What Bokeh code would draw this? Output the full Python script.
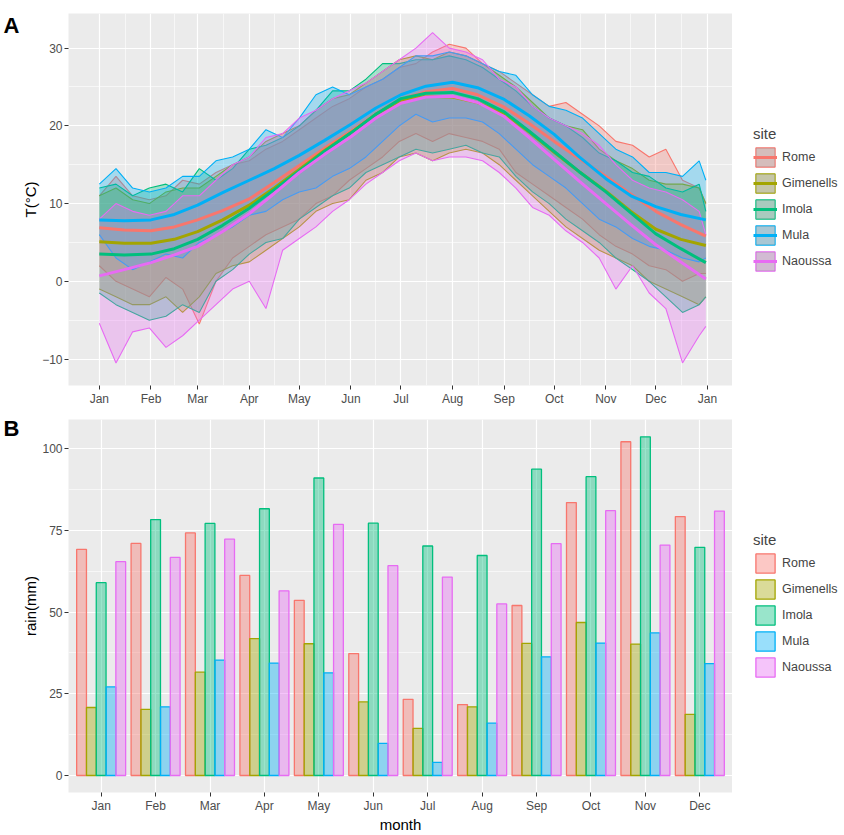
import numpy as np
from bokeh.plotting import figure
from bokeh.models import (ColumnDataSource, FixedTicker, FactorRange, Range1d,
                          Legend, LegendItem, LinearAxis)
from bokeh.transform import dodge
from bokeh.layouts import column, row
from bokeh.embed import file_html
from bokeh.resources import INLINE

# ---------------- data ----------------
sites = ["Rome", "Gimenells", "Imola", "Mula", "Naoussa"]
colors = ["#F8766D", "#A3A500", "#00BF7D", "#00B0F6", "#E76BF3"]
months = ["Jan", "Feb", "Mar", "Apr", "May", "Jun", "Jul", "Aug", "Sep", "Oct", "Nov", "Dec"]
month_start_days = [0, 31, 59, 90, 120, 151, 181, 212, 243, 273, 304, 334, 365]
month_tick_labels = months + ["Jan"]

# daily temperature envelope, read roughly every 10 days (day of year)
temp_days = [0, 10, 20, 30, 40, 50, 60, 70, 80, 90, 100, 110, 120, 130, 140, 150, 160, 170, 180,
             190, 200, 210, 220, 230, 240, 250, 260, 270, 280, 290, 300, 310, 320, 330, 340, 350, 360, 364]

rome_tmax = [11, 13.5, 11, 10.5, 11, 13, 12.5, 14, 15, 15.5, 17, 18, 19.5, 21, 22.5, 23.5, 25, 26, 27.5,
             28, 29.5, 30.5, 30, 28, 27, 25.5, 24, 22.5, 23, 21.5, 20, 18, 17.5, 16, 17, 13, 12, 10]
rome_tmin = [2, 0, -1, -2, 0.5, -1, -5.5, 0, 3, 4.5, 6, 7, 8, 10, 11, 13, 14.5, 16, 18,
             19, 18, 19, 18.5, 18, 17, 14, 12.5, 11, 9.5, 8, 6, 4.5, 3.5, 2, 1.5, 0, 1, 1]

gim_tmax = [11, 12, 10.5, 10, 11.5, 12, 12, 13.5, 15, 16, 18, 19, 20, 22, 23.5, 24, 25.5, 27, 28.5,
            29, 28.5, 29.5, 29, 28, 26.5, 25, 23, 21, 20, 19.5, 17, 15.5, 14.5, 13, 12.5, 12.5, 12, 10]
gim_tmin = [-1, -2, -3, -3, -2, -4, -2, 1, 2, 2.5, 4, 5.5, 7, 9, 10, 10.5, 13, 14, 16,
            16.5, 15.5, 16.5, 17, 16.5, 15, 13, 11, 9, 7, 5.5, 4, 3, 2, 0, -1, -2, -3, -2]

imola_tmax = [12, 12.5, 11, 12, 12.5, 11.5, 14.5, 13, 14.5, 17, 17.5, 18.5, 20, 22, 24.5, 24.5, 26, 28, 28,
              28.5, 28.5, 29, 28.5, 27.5, 26, 24.5, 22.5, 21, 20, 18.5, 16.5, 15.5, 14, 13.5, 12, 11.5, 12.5, 9]
imola_tmin = [-1.5, -3, -4, -5, -4.5, -3, -4, 0, 1.5, 3.5, 5, 5.5, 8, 9.5, 11, 12, 14, 15, 16,
              17, 16.5, 17, 17.5, 16.5, 16, 13.5, 11.5, 10, 8, 6.5, 5, 3, 1.5, 0, -2, -4, -3, -2]

mula_tmax = [12.5, 14.5, 12, 11.5, 12, 13.5, 13.5, 15.5, 16, 17, 19.5, 18.5, 21, 24, 25, 24, 25, 26, 27.5,
             29, 29, 29.5, 29, 28, 27, 26.5, 24, 22.5, 22, 21, 19, 17, 16, 14, 14, 13.5, 15.5, 13]
mula_tmin = [6, 3, 1.5, 2.5, 3.5, 3, 5, 6, 7, 8.5, 9, 10.5, 11.5, 12, 13.5, 14.5, 16, 18, 20,
             21.5, 20.5, 21, 21, 20.5, 19, 17, 15, 13.5, 12, 10, 8, 7, 5.5, 4.5, 4, 3, 2.5, 3]

naou_tmax = [8, 10, 9, 8.5, 9, 11, 11, 13, 15, 16, 18.5, 19, 21, 22, 23.5, 24.5, 25.5, 27, 28.5,
             30, 32, 30, 29.5, 28.5, 26, 25, 22.5, 21, 20, 19, 17.5, 15, 13, 12, 11.5, 10.5, 9, 6]
naou_tmin = [-5.4, -10.5, -6.5, -6, -8.5, -7, -5, -3, -1, 0, -3.5, 4, 5.5, 7, 9, 10.5, 12.5, 14, 15.5,
             16.5, 15.5, 16, 16, 15.5, 14, 12, 9.5, 8.5, 6.5, 5, 3, -1, 2, -1.5, -3.5, -10.5, -7, -5.8]

# smoothed (loess) curves, read twice a month
smooth_days = [0, 15, 31, 45, 59, 74, 90, 105, 120, 135, 151, 166, 181, 196, 212, 227, 243,
               258, 273, 288, 304, 319, 334, 349, 364]
rome_smooth = [6.9, 6.6, 6.5, 7.0, 7.9, 9.1, 10.6, 12.7, 14.9, 17.1, 19.3, 21.5, 23.4, 24.4, 24.8,
               24.0, 22.4, 20.3, 18.0, 15.8, 13.5, 11.2, 9.0, 7.3, 5.8]
gim_smooth = [5.1, 4.9, 4.9, 5.4, 6.4, 7.9, 9.8, 12.0, 14.4, 16.8, 19.1, 21.5, 23.3, 23.8, 23.7,
              23.0, 21.6, 19.2, 16.6, 14.1, 11.6, 9.0, 6.7, 5.4, 4.6]
imola_smooth = [3.5, 3.4, 3.5, 4.2, 5.4, 7.2, 9.4, 11.8, 14.2, 16.7, 19.1, 21.5, 23.5, 24.2, 24.3,
                23.5, 21.8, 19.3, 16.7, 14.1, 11.5, 8.8, 6.1, 4.2, 2.4]
mula_smooth = [7.9, 7.8, 7.9, 8.6, 9.8, 11.4, 13.0, 14.5, 16.2, 18.1, 20.2, 22.3, 24.0, 25.1, 25.6,
               24.9, 23.4, 21.3, 18.9, 16.0, 13.2, 11.0, 9.6, 8.6, 7.9]
naou_smooth = [0.7, 1.5, 2.4, 3.4, 4.5, 6.4, 8.7, 11.3, 14.0, 16.3, 18.6, 21.0, 22.9, 23.7, 23.8,
               23.0, 21.2, 18.5, 15.7, 12.9, 10.0, 7.3, 4.7, 2.5, 0.3]

# monthly rain (mm)
rain_rome = [69.2, 71.0, 74.2, 61.2, 53.6, 37.3, 23.3, 21.7, 52.0, 83.5, 102.1, 79.2]
rain_gim = [20.8, 20.2, 31.6, 41.9, 40.3, 22.5, 14.4, 21.0, 40.4, 46.8, 40.2, 18.7]
rain_imola = [59.0, 78.3, 77.1, 81.6, 91.0, 77.2, 70.2, 67.3, 93.7, 91.4, 103.6, 69.8]
rain_mula = [27.1, 21.0, 35.3, 34.4, 31.4, 9.8, 4.0, 16.0, 36.3, 40.5, 43.6, 34.2]
rain_naou = [65.4, 66.7, 72.3, 56.5, 76.8, 64.2, 60.7, 52.5, 70.9, 81.0, 70.5, 80.9]

temp_max = [rome_tmax, gim_tmax, imola_tmax, mula_tmax, naou_tmax]
temp_min = [rome_tmin, gim_tmin, imola_tmin, mula_tmin, naou_tmin]
smooths = [rome_smooth, gim_smooth, imola_smooth, mula_smooth, naou_smooth]
rains = [rain_rome, rain_gim, rain_imola, rain_mula, rain_naou]

# ---------------- style ----------------
FONT = "Liberation Sans"
W_MAIN = 732
W_LEG = 110
H_A = 408
H_B = 427
BG = "#EBEBEB"


def style(p):
    p.background_fill_color = BG
    p.border_fill_color = "white"
    p.outline_line_color = None
    for ax in p.axis:
        ax.axis_line_color = None
        ax.major_tick_line_color = "#333333"
        ax.major_tick_in = 0
        ax.major_tick_out = 4
        ax.minor_tick_line_color = None
        ax.major_label_text_color = "#4D4D4D"
        ax.major_label_text_font = FONT
        ax.major_label_text_font_size = "12px"
        ax.major_label_standoff = 2
        ax.axis_label_text_font = FONT
        ax.axis_label_text_font_size = "15px"
        ax.axis_label_text_font_style = "normal"
        ax.axis_label_text_color = "black"
        ax.axis_label_standoff = 0
    for g in p.grid:
        g.grid_line_color = "white"
        g.grid_line_width = 1.2
        g.minor_grid_line_color = "white"
        g.minor_grid_line_width = 0.6


def panel_tag(p, letter, y):
    ax = LinearAxis(ticker=FixedTicker(ticks=[y]), major_label_overrides={y: letter})
    ax.axis_line_color = None
    ax.major_tick_line_color = None
    ax.major_tick_out = 0
    ax.major_tick_in = 0
    ax.minor_tick_line_color = None
    ax.major_label_standoff = 0
    ax.major_label_text_font = FONT
    ax.major_label_text_font_size = "22px"
    ax.major_label_text_font_style = "bold"
    ax.major_label_text_color = "black"
    p.add_layout(ax, "left")


def legend_figure(height, items, loc):
    lf = figure(width=W_LEG, height=height, x_range=Range1d(0, 1), y_range=Range1d(0, 1),
                output_backend="svg", toolbar_location=None, min_border=0)
    lf.axis.visible = False
    lf.grid.visible = False
    lf.outline_line_color = None
    lf.background_fill_color = "white"
    lf.border_fill_color = "white"
    legend_items = []
    for s, builder in items:
        legend_items.append(LegendItem(label=s, renderers=builder(lf)))
    lg = Legend(items=legend_items, title="site", location=loc, orientation="vertical")
    lg.title_text_font = FONT
    lg.title_text_font_size = "15px"
    lg.title_text_font_style = "normal"
    lg.title_standoff = 3
    lg.label_text_font = FONT
    lg.label_text_font_size = "12.5px"
    lg.glyph_width = 24
    lg.glyph_height = 24
    lg.label_height = 24
    lg.label_standoff = 5
    lg.spacing = 2
    lg.padding = 3
    lg.margin = 0
    lg.border_line_color = None
    lg.background_fill_alpha = 0
    lf.add_layout(lg, "center")
    return lf


def nan_src():
    return ColumnDataSource(dict(l=[np.nan], r=[np.nan], t=[np.nan], b=[np.nan],
                                 x=[np.nan], y=[np.nan]))


# ---------------- panel A ----------------
mid_days = [(a + b) / 2 for a, b in zip(month_start_days[:-1], month_start_days[1:])]

p1 = figure(width=W_MAIN, height=H_A, x_range=Range1d(-18.5, 380),
            y_range=Range1d(-13.4, 34.45), output_backend="svg", toolbar_location=None,
            min_border_left=0, min_border_top=13, min_border_bottom=20, min_border_right=0)
p1.xaxis.ticker = FixedTicker(ticks=month_start_days, minor_ticks=mid_days)
p1.xaxis.major_label_overrides = {d: lab for d, lab in zip(month_start_days, month_tick_labels)}
p1.yaxis.ticker = FixedTicker(ticks=[-10, 0, 10, 20, 30], minor_ticks=[-5, 5, 15, 25])
p1.yaxis.axis_label = "T(°C)"
style(p1)
panel_tag(p1, "A", 32.9)

for c, tmx, tmn in zip(colors, temp_max, temp_min):
    src = ColumnDataSource(dict(x=temp_days, lo=tmn, hi=tmx))
    p1.varea(x="x", y1="lo", y2="hi", source=src, fill_color=c, fill_alpha=0.3)
    p1.line(x="x", y="hi", source=src, line_color=c, line_width=1.1)
    p1.line(x="x", y="lo", source=src, line_color=c, line_width=1.1)

for c, sm in zip(colors, smooths):
    p1.line(x=smooth_days, y=sm, line_color=c, line_width=3)


def key_a(c):
    def build(lf):
        src = nan_src()
        q1 = lf.quad(left="l", right="r", top="t", bottom="b", source=src,
                     fill_color=c, fill_alpha=0.3, line_color=c, line_width=1.2)
        q2 = lf.quad(left="l", right="r", top="t", bottom="b", source=src,
                     fill_color="#999999", fill_alpha=0.4, line_color=None)
        ln = lf.line(x="x", y="y", source=src, line_color=c, line_width=3)
        return [q1, q2, ln]
    return build


leg_a = legend_figure(H_A, [(s, key_a(c)) for s, c in zip(sites, colors)], (21, 112))

# ---------------- panel B ----------------
src_b = ColumnDataSource(dict(month=months, **{s: r for s, r in zip(sites, rains)}))
p2 = figure(width=W_MAIN, height=H_B,
            x_range=FactorRange(factors=months, range_padding=0.1, range_padding_units="absolute"),
            y_range=Range1d(-5.2, 108.9), output_backend="svg", toolbar_location=None,
            min_border_left=0, min_border_top=11, min_border_bottom=36, min_border_right=0)
p2.yaxis.ticker = FixedTicker(ticks=[0, 25, 50, 75, 100], minor_ticks=[12.5, 37.5, 62.5, 87.5])
p2.yaxis.axis_label = "rain(mm)"
p2.xaxis.axis_label = "month"
p2.xaxis.axis_label_standoff = 1
style(p2)
panel_tag(p2, "B", 106.0)

bw = 0.9 / len(sites)
for i, (s, c) in enumerate(zip(sites, colors)):
    off = (i - (len(sites) - 1) / 2) * bw
    p2.vbar(x=dodge("month", off, range=p2.x_range), top=s, width=bw, source=src_b,
            fill_color=c, fill_alpha=0.4, line_color=c, line_width=1.3)


def key_b(c):
    def build(lf):
        src = nan_src()
        q = lf.quad(left="l", right="r", top="t", bottom="b", source=src,
                    fill_color=c, fill_alpha=0.4, line_color=c, line_width=1.3)
        return [q]
    return build


leg_b = legend_figure(H_B, [(s, key_b(c)) for s, c in zip(sites, colors)], (21, 113))

layout = column(row(p1, leg_a, spacing=0), row(p2, leg_b, spacing=0), spacing=0)
open("out.html", "w").write(file_html(layout, INLINE))
